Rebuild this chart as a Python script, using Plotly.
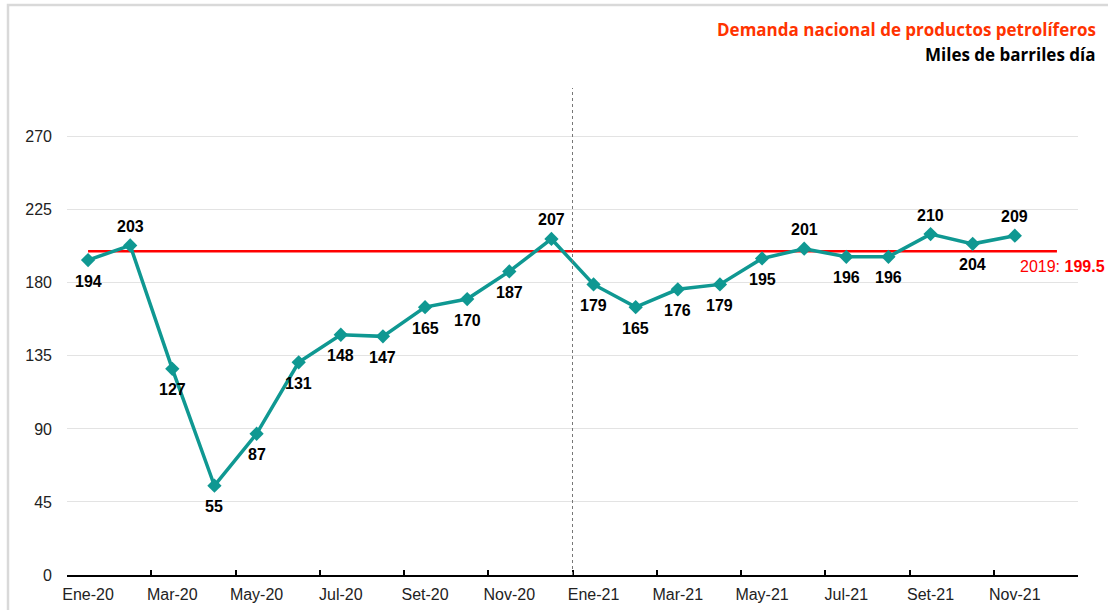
import plotly.graph_objects as go

months = ["Ene-20","Feb-20","Mar-20","Abr-20","May-20","Jun-20","Jul-20","Ago-20","Set-20","Oct-20","Nov-20","Dic-20",
          "Ene-21","Feb-21","Mar-21","Abr-21","May-21","Jun-21","Jul-21","Ago-21","Set-21","Oct-21","Nov-21","Dic-21"]
demand = [194, 203, 127, 55, 87, 131, 148, 147, 165, 170, 187, 207,
          179, 165, 176, 179, 195, 201, 196, 196, 210, 204, 209]
label_above = [False, True, False, False, False, False, False, False, False, False, False, True,
               False, False, False, False, False, True, False, False, True, False, True]
ref_2019 = 199.5
y_ticks = [0, 45, 90, 135, 180, 225, 270]

n = len(months)
xi = list(range(len(demand)))
teal = "#0F9892"

fig = go.Figure()

fig.add_trace(go.Scatter(x=[0, n - 1], y=[ref_2019, ref_2019], mode="lines",
                         line=dict(color="#FF0000", width=2.5), hoverinfo="skip", showlegend=False))

fig.add_trace(go.Scatter(
    x=xi, y=demand, mode="lines+markers",
    line=dict(color=teal, width=3.5),
    marker=dict(symbol="diamond", size=11, color=teal),
    showlegend=False, cliponaxis=False))

for x, v, up in zip(xi, demand, label_above):
    fig.add_annotation(x=x, y=v, text=f"<b>{v}</b>", showarrow=False,
                       yshift=19 if up else -21, xanchor="center", yanchor="middle",
                       font=dict(family="Liberation Sans, Arial", size=16, color="#000000"))

fig.add_trace(go.Scatter(x=[-0.5], y=[0], xaxis="x2", mode="markers",
                         marker=dict(opacity=0), hoverinfo="skip", showlegend=False))

fig.add_shape(type="line", x0=(n / 2) - 0.5, x1=(n / 2) - 0.5, y0=0, y1=300,
              xref="x", yref="y", line=dict(color="#777777", width=1, dash="3px,3px"))

fig.add_shape(type="rect", xref="paper", yref="paper",
              x0=(8 - 67) / 1011, x1=(1130 - 67) / 1011, y0=(575 - 640) / 487, y1=1 + (88 - 5) / 487,
              line=dict(color="#D9D9D9", width=2.5), fillcolor="rgba(0,0,0,0)", layer="below")

fig.add_annotation(xref="paper", yref="y", x=(1107 - 67) / 1011, y=ref_2019, yshift=-15,
                   xanchor="right", yanchor="middle", showarrow=False,
                   text="2019: <b>199.5</b>",
                   font=dict(family="Liberation Sans, Arial", size=16, color="#FF0000"))

fig.add_annotation(xref="paper", yref="paper", x=(1098 - 67) / 1011, y=1 + (88 - 30) / 487,
                   xanchor="right", yanchor="middle", showarrow=False,
                   text="<b>Demanda nacional de productos petrolíferos</b>",
                   font=dict(family="Open Sans, Noto Sans", size=17, color="#FF3300"))
fig.add_annotation(xref="paper", yref="paper", x=(1098 - 67) / 1011, y=1 + (88 - 55) / 487,
                   xanchor="right", yanchor="middle", showarrow=False,
                   text="<b>Miles de barriles día</b>",
                   font=dict(family="Open Sans, Noto Sans", size=17, color="#000000"))

fig.update_layout(
    width=1108, height=610,
    margin=dict(l=67, r=30, t=88, b=35, autoexpand=False),
    paper_bgcolor="white", plot_bgcolor="white",
    xaxis=dict(range=[-0.5, n - 0.5], tickmode="array", tickvals=list(range(0, n, 2)),
               ticktext=months[0::2], ticks="", showgrid=False, zeroline=False,
               showline=True, linecolor="#000000", linewidth=1.5, ticklabelstandoff=4,
               automargin=False,
               tickfont=dict(family="Liberation Sans, Arial", size=16, color="#222222")),
    xaxis2=dict(range=[-0.5, n - 0.5], overlaying="x", side="bottom", tickmode="array",
                tickvals=[i - 0.5 for i in range(0, n + 1, 2)], ticks="inside", ticklen=5,
                tickcolor="#000000", tickwidth=1.5, showticklabels=False, showgrid=False,
                zeroline=False, showline=False, anchor="y", automargin=False),
    yaxis=dict(range=[0, 300], tickmode="array", tickvals=y_ticks, showgrid=True,
               gridcolor="#E3E3E3", gridwidth=1, zeroline=False, showline=False,
               ticks="", ticklabelstandoff=14, automargin=False,
               tickfont=dict(family="Liberation Sans, Arial", size=16, color="#222222")),
)

fig.write_html("out.html", config={"displayModeBar": False},
               post_script="document.body.style.margin='0';document.body.style.overflow='hidden';")
